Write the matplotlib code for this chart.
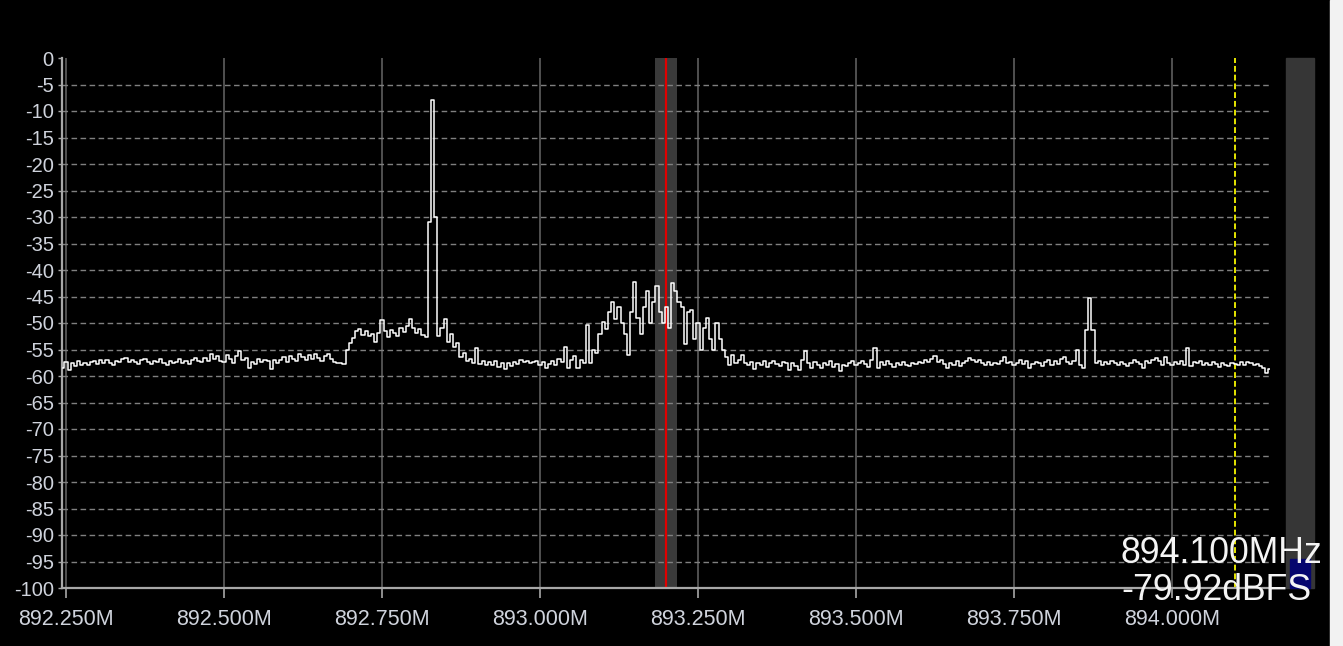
import numpy as np
import matplotlib.pyplot as plt
from matplotlib.patches import Rectangle

plt.rcParams['axes.unicode_minus'] = False

# spectrum bins: 5 kHz spacing starting at 892.245 MHz
f_start = 892.245
bin_mhz = 0.005

# levels in dBFS, one per bin, split by region of the span
floor_left = [
    -58.5, -57.4, -58.9, -57.6, -58.2, -57.1, -57.9, -57.5, -58.0, -57.4,
    -57.2, -57.8, -57.0, -57.6, -56.9, -57.5, -57.9, -57.1, -57.4, -56.8,
    -56.6, -57.3, -56.9, -57.4, -57.7, -57.0, -56.8, -57.3, -57.8, -57.2,
    -57.4, -56.7, -57.5, -57.9, -57.1, -57.6, -57.3, -56.8, -57.5, -57.2,
    -57.7, -57.0, -56.6, -57.1, -57.4, -56.6, -57.2, -55.9, -56.8, -56.3,
    -57.1, -57.4, -56.0, -56.8, -57.6, -56.2, -55.3, -57.0, -56.6, -58.4,
    -57.3, -57.8, -56.8, -57.4, -56.9, -57.2, -58.6, -57.0, -57.6, -56.9,
    -56.5, -57.3, -56.2, -56.8, -57.1, -55.9, -56.4, -56.9, -56.0, -56.7,
    -55.8, -56.6, -57.2, -56.3, -55.9, -56.8, -57.4, -57.6, -57.5, -57.8,
]
carrier_block = [
    -55.0, -53.8, -52.9, -51.5, -51.2, -52.3, -51.6, -52.5, -52.0, -53.6,
    -51.8, -49.4, -51.5, -52.6, -51.3, -51.9, -52.4, -51.0, -51.7, -50.5,
    -49.3, -51.0, -51.8, -51.2, -52.3, -52.6, -31.0, -8.0, -30.0, -52.4,
    -51.0, -49.3, -53.5, -52.0, -54.5, -53.8, -56.5, -55.6, -57.2, -56.8,
    -57.6,
]
floor_mid = [
    -54.8, -57.8, -57.2, -58.0, -57.4, -57.9, -57.1, -58.3, -57.6, -58.6,
    -57.5, -58.2, -57.3, -57.8, -57.0, -57.4, -57.2, -57.5, -57.3, -57.1,
    -57.9, -57.4, -58.4, -57.8, -57.2, -57.9, -56.8, -57.4,
]
signal_bump = [
    -54.5, -58.5, -57.0, -56.2, -58.4, -57.0, -57.6, -50.4, -57.5, -55.0,
    -55.6, -52.0, -49.8, -51.2, -48.0, -46.0, -49.2, -47.0, -50.0, -52.0,
    -56.0, -48.0, -42.3, -49.0, -52.0, -47.0, -44.0, -50.0, -46.0, -43.0,
    -48.0, -50.0, -47.0, -51.0, -42.5, -44.0, -46.0, -47.0, -54.0, -48.0,
    -47.5, -53.0, -50.0, -55.0, -51.0, -49.0, -53.0, -55.0, -50.0, -53.0,
    -55.0, -56.5, -58.0, -56.0, -57.5, -57.0, -56.0, -57.5,
]
floor_right = [
    -58.0, -57.3, -58.6, -57.5, -57.9, -57.2, -58.3, -57.6, -57.1, -57.8,
    -58.2, -57.4, -57.6, -58.9, -57.5, -58.2, -58.8, -56.9, -55.2, -57.6,
    -58.5, -57.3, -57.9, -58.4, -57.6, -58.0, -57.2, -58.3, -57.7, -59.0,
    -57.9, -58.2, -57.6, -57.2, -58.0, -57.5, -57.1, -57.7, -58.3, -56.9,
    -54.8, -58.5, -57.4, -57.9, -57.2, -57.8, -58.3, -57.5, -58.0, -57.3,
    -57.9, -58.2, -57.5, -57.8, -57.3, -57.6, -56.9, -57.4, -56.7, -56.2,
    -57.3, -57.0, -57.8, -58.5, -57.6, -57.9, -57.2, -58.1, -57.5, -57.1,
    -56.6, -56.9, -57.4, -57.0, -57.6, -57.9, -57.3, -58.0, -57.5, -57.8,
    -57.1, -56.5, -57.6, -57.3, -57.9, -57.5, -57.0, -57.7, -57.1, -58.5,
    -57.8, -57.3, -57.6, -58.1, -57.4, -57.0, -57.9, -57.2, -57.7, -56.8,
    -56.5, -57.4, -57.8, -57.1, -55.0, -58.0, -58.5, -51.3, -45.3, -51.3,
]
floor_tail = [
    -57.6, -57.2, -58.0, -57.4, -57.8, -57.1, -57.6, -57.9, -57.3, -57.7,
    -58.1, -57.5, -57.0, -57.4, -57.8, -58.4, -57.2, -57.6, -57.0, -56.6,
    -57.2, -57.9, -56.5, -57.5, -58.0, -57.3, -57.8, -57.1, -58.0, -54.8,
    -58.2, -57.4, -57.6, -57.1, -57.9, -57.5, -58.0, -57.4, -57.8, -58.3,
    -57.6, -57.9, -58.2, -57.5, -57.8, -58.0, -57.4, -57.9, -57.3, -57.6,
    -58.0, -57.7, -58.2, -58.5, -59.4, -58.7,
]

levels = np.array(floor_left + carrier_block + floor_mid + signal_bump
                  + floor_right + floor_tail)
freqs = f_start + bin_mhz * np.arange(len(levels))

x_ticks = [892.25, 892.50, 892.75, 893.00, 893.25, 893.50, 893.75, 894.00]
y_ticks = list(range(0, -105, -5))
span = (892.2437, 894.155)
tuned_freq = 893.200
filter_width = 0.035
cursor_freq = 894.100
cursor_level = -79.92

W, H = 1343, 646
fig = plt.figure(figsize=(W / 100, H / 100), dpi=100, facecolor='black')
ax = fig.add_axes([62 / W, 58 / H, (1270 - 62) / W, 530 / H], facecolor='black')

# filter passband and tuned frequency
ax.axvspan(tuned_freq - filter_width / 2, tuned_freq + filter_width / 2,
           color='#3a3a3a', zorder=1, lw=0)
for xt in x_ticks:
    ax.axvline(xt, color='#5e5e5e', lw=1.2, zorder=1.5)
for yt in y_ticks[1:]:
    ax.axhline(yt, color='#808080', lw=1.0, ls=(0, (4, 2.5)), zorder=1.5)
ax.axvline(tuned_freq, color='#e00000', lw=1.6, zorder=2)
ax.axvline(cursor_freq, color='#e6e600', lw=1.4, ls=(0, (3, 1.5)), zorder=2)

ax.plot(freqs, levels, color='white', lw=1.1, drawstyle='steps-mid', zorder=3)

ax.set_xlim(*span)
ax.set_ylim(-100, 0)
ax.set_xticks(x_ticks)
ax.set_xticklabels([f'{v:.3f}M' for v in x_ticks])
ax.set_yticks(y_ticks)
ax.set_yticklabels([str(v) for v in y_ticks])

for side in ('top', 'right'):
    ax.spines[side].set_visible(False)
for side in ('left', 'bottom'):
    ax.spines[side].set_color('#a8a8a8')
    ax.spines[side].set_linewidth(1.6)

ax.tick_params(axis='x', colors='#a8a8a8', length=7, width=1.2, pad=8,
               labelcolor='#cfd3dc', labelsize=15.5)
ax.tick_params(axis='y', colors='#a8a8a8', length=3, width=1.0, pad=3,
               labelcolor='#cfd3dc', labelsize=14.5)
for lab in ax.get_xticklabels() + ax.get_yticklabels():
    lab.set_fontfamily('Liberation Sans')

# level meter at the right
fig.patches.append(Rectangle((1286 / W, 58 / H), 28 / W, 530 / H,
                             transform=fig.transFigure, color='#363636'))
fig.patches.append(Rectangle((1290 / W, 58 / H), 20 / W, 29 / H,
                             transform=fig.transFigure, color='#06066e'))
fig.patches.append(Rectangle((1330 / W, 0), 13 / W, 1,
                             transform=fig.transFigure, color='#f2f2f2'))

# cursor readout
fig.text(1121 / W, (H - 563) / H, f'{cursor_freq:.3f}MHz', color='#f4f4f4',
         fontsize=25.7, family='Liberation Sans', ha='left', va='baseline', zorder=10)
fig.text(1121 / W, (H - 600) / H, f'{cursor_level:.2f}dBFS', color='#f4f4f4',
         fontsize=25.7, family='Liberation Sans', ha='left', va='baseline', zorder=10)

fig.savefig('out.png', dpi=100, facecolor='black')
